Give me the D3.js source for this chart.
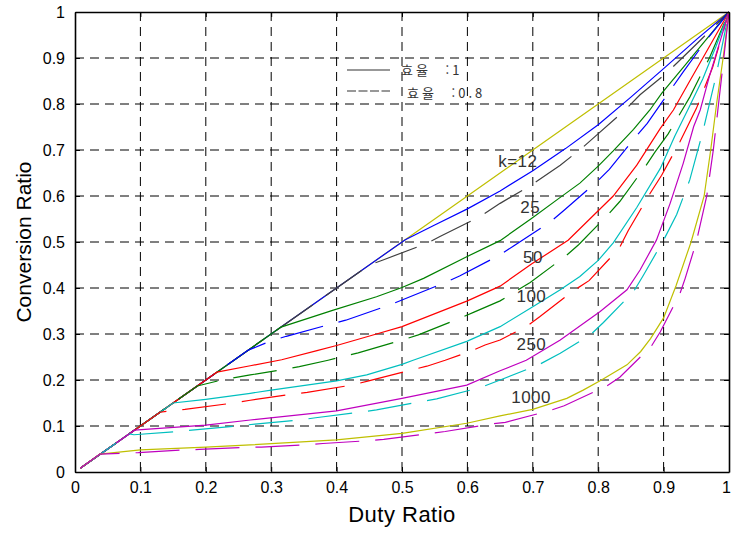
<!DOCTYPE html>
<html lang="ko">
<head>
<meta charset="utf-8">
<title>Conversion Ratio vs Duty Ratio</title>
<script src="https://cdn.jsdelivr.net/npm/d3@7/dist/d3.min.js"></script>
<style>
    body { margin: 0; background: #fff; }
    svg { display: block; font-family: "Liberation Sans", Arial, sans-serif; }
    .axis path, .axis line { stroke: #000; fill: none; }
    .axis text { font-size: 16px; fill: #000; }
    .grid line { stroke: #000; stroke-width: 1; stroke-dasharray: 9, 6; }
    .curve { fill: none; stroke-width: 1.2; }
    .klabel { font-size: 17px; fill: #333; letter-spacing: 0.5px; }
    .legend text { font-family: "Noto Sans CJK KR", sans-serif; font-size: 13px; fill: #333;
        letter-spacing: 3px; word-spacing: 8px; }
</style>
</head>
<body>
<script>
// tick values / labels
var tickValues = [0, 0.1, 0.2, 0.3, 0.4, 0.5, 0.6, 0.7, 0.8, 0.9, 1];
var tickLabels = ["0", "0.1", "0.2", "0.3", "0.4", "0.5", "0.6", "0.7", "0.8", "0.9", "1"];

// [duty, conversion ratio]
var ideal = [[0.008, 0.008], [0.1, 0.1], [0.2, 0.2], [0.3, 0.3], [0.4, 0.4], [0.5, 0.5],
    [0.6, 0.6], [0.7, 0.7], [0.8, 0.8], [0.9, 0.9], [1, 1]];

var k12 = [[0.008, 0.008], [0.505, 0.505], [0.55, 0.537], [0.6, 0.572], [0.65, 0.611], [0.7, 0.655],
    [0.75, 0.703], [0.8, 0.755], [0.85, 0.815], [0.9, 0.877], [0.95, 0.94], [1, 1]];
var k12e = [[0.008, 0.008], [0.45, 0.45], [0.471, 0.461], [0.538, 0.497], [0.558, 0.512], [0.619, 0.555],
    [0.65, 0.584], [0.698, 0.624], [0.742, 0.667], [0.775, 0.704], [0.795, 0.729], [0.841, 0.787],
    [0.864, 0.82], [0.905, 0.868], [0.95, 0.93], [1, 1]];

var k25 = [[0.008, 0.008], [0.315, 0.315], [0.395, 0.352], [0.461, 0.381], [0.5, 0.401], [0.533, 0.421],
    [0.599, 0.468], [0.65, 0.503], [0.698, 0.551], [0.742, 0.597], [0.772, 0.628], [0.8, 0.665],
    [0.823, 0.698], [0.854, 0.745], [0.879, 0.787], [0.897, 0.823], [0.931, 0.881], [0.965, 0.94], [1, 1]];
var k25e = [[0.008, 0.008], [0.265, 0.265], [0.298, 0.284], [0.323, 0.295], [0.39, 0.321], [0.414, 0.33],
    [0.479, 0.362], [0.5, 0.374], [0.566, 0.412], [0.588, 0.426], [0.65, 0.472], [0.67, 0.491],
    [0.727, 0.544], [0.747, 0.568], [0.798, 0.631], [0.817, 0.658], [0.86, 0.733], [0.875, 0.758],
    [0.93, 0.87], [0.966, 0.94], [1, 1]];

var k50 = [[0.008, 0.008], [0.217, 0.217], [0.268, 0.231], [0.316, 0.244], [0.37, 0.264], [0.4, 0.275],
    [0.461, 0.3], [0.5, 0.316], [0.6, 0.372], [0.65, 0.404], [0.698, 0.452], [0.754, 0.504], [0.8, 0.568],
    [0.823, 0.6], [0.859, 0.667], [0.895, 0.747], [0.915, 0.787], [0.94, 0.85], [0.97, 0.925], [1, 1]];
var k50e = [[0.008, 0.008], [0.187, 0.187], [0.224, 0.2], [0.268, 0.211], [0.319, 0.223], [0.343, 0.229],
    [0.387, 0.243], [0.433, 0.259], [0.5, 0.287], [0.525, 0.298], [0.588, 0.334], [0.611, 0.348],
    [0.65, 0.372], [0.696, 0.412], [0.749, 0.468], [0.77, 0.494], [0.816, 0.561], [0.833, 0.588],
    [0.872, 0.664], [0.887, 0.696], [0.907, 0.735], [0.94, 0.815], [0.97, 0.9], [1, 1]];

var k100 = [[0.008, 0.008], [0.15, 0.15], [0.2, 0.158], [0.268, 0.171], [0.3, 0.178], [0.4, 0.198],
    [0.446, 0.211], [0.5, 0.234], [0.517, 0.243], [0.599, 0.284], [0.65, 0.316], [0.7, 0.359],
    [0.742, 0.396], [0.772, 0.425], [0.8, 0.46], [0.823, 0.498], [0.859, 0.575], [0.895, 0.66],
    [0.917, 0.73], [0.938, 0.79], [0.96, 0.855], [0.98, 0.925], [1, 1]];
var k100e = [[0.008, 0.008], [0.13, 0.13], [0.145, 0.133], [0.168, 0.136], [0.237, 0.149], [0.268, 0.156],
    [0.331, 0.169], [0.355, 0.173], [0.423, 0.189], [0.449, 0.198], [0.515, 0.222], [0.538, 0.23],
    [0.566, 0.243], [0.604, 0.262], [0.627, 0.276], [0.65, 0.287], [0.691, 0.317], [0.711, 0.338],
    [0.76, 0.392], [0.786, 0.416], [0.832, 0.486], [0.846, 0.525], [0.879, 0.605], [0.897, 0.645],
    [0.925, 0.718], [0.95, 0.79], [0.975, 0.88], [1, 1]];

var k250 = [[0.008, 0.008], [0.091, 0.091], [0.2, 0.102], [0.268, 0.113], [0.4, 0.133], [0.5, 0.16],
    [0.599, 0.189], [0.65, 0.22], [0.69, 0.243], [0.742, 0.287], [0.803, 0.349], [0.844, 0.396],
    [0.864, 0.439], [0.889, 0.504], [0.91, 0.584], [0.93, 0.671], [0.946, 0.751], [0.956, 0.787],
    [0.97, 0.86], [0.985, 0.93], [1, 1]];
var k250e = [[0.008, 0.008], [0.083, 0.083], [0.09, 0.081], [0.156, 0.088], [0.247, 0.1], [0.275, 0.104],
    [0.343, 0.113], [0.368, 0.118], [0.436, 0.13], [0.461, 0.135], [0.529, 0.153], [0.553, 0.159],
    [0.621, 0.184], [0.65, 0.2], [0.709, 0.233], [0.742, 0.258], [0.788, 0.298], [0.808, 0.325],
    [0.854, 0.392], [0.868, 0.425], [0.9, 0.504], [0.92, 0.56], [0.94, 0.635], [0.96, 0.74],
    [0.98, 0.86], [1, 1]];

var k1000 = [[0.008, 0.008], [0.038, 0.039], [0.1, 0.048], [0.2, 0.054], [0.268, 0.059], [0.4, 0.07],
    [0.5, 0.084], [0.599, 0.106], [0.65, 0.122], [0.7, 0.136], [0.752, 0.16], [0.777, 0.178],
    [0.805, 0.2], [0.844, 0.233], [0.865, 0.262], [0.88, 0.29], [0.9, 0.335], [0.919, 0.405],
    [0.942, 0.5], [0.962, 0.6], [0.972, 0.7], [0.981, 0.8], [0.991, 0.9], [1, 1]];
var k1000e = [[0.008, 0.008], [0.038, 0.039], [0.074, 0.041], [0.097, 0.042], [0.166, 0.048], [0.19, 0.049],
    [0.268, 0.054], [0.285, 0.054], [0.354, 0.059], [0.379, 0.062], [0.448, 0.068], [0.472, 0.071],
    [0.54, 0.083], [0.566, 0.088], [0.635, 0.104], [0.658, 0.108], [0.725, 0.133], [0.748, 0.144],
    [0.812, 0.186], [0.833, 0.206], [0.881, 0.273], [0.895, 0.305], [0.925, 0.388], [0.933, 0.421],
    [0.95, 0.5], [0.966, 0.6], [0.976, 0.7], [0.984, 0.8], [0.992, 0.9], [1, 1]];

// curve labels and where they sit (data units, text start / baseline)
var kLabels = ["k=12", "25", "50", "100", "250", "1000"];
var kLabelPos = [[0.647, 0.663], [0.681, 0.562], [0.685, 0.454], [0.675, 0.37], [0.675, 0.265], [0.667, 0.151]];

var legendLabels = ["효율 :1", "효율 :0.8"];

// matlab colour order
var curves = [
    {data: ideal, color: "#bfbf00", dash: false},
    {data: k12, color: "#0000ff", dash: false},
    {data: k12e, color: "#404040", dash: true},
    {data: k25, color: "#008000", dash: false},
    {data: k25e, color: "#0000ff", dash: true},
    {data: k50, color: "#ff0000", dash: false},
    {data: k50e, color: "#008000", dash: true},
    {data: k100, color: "#00bfbf", dash: false},
    {data: k100e, color: "#ff0000", dash: true},
    {data: k250, color: "#bf00bf", dash: false},
    {data: k250e, color: "#00bfbf", dash: true},
    {data: k1000, color: "#bfbf00", dash: false},
    {data: k1000e, color: "#bf00bf", dash: true}
];

var margin = {top: 12, right: 2, bottom: 61, left: 75};
var w = 731 - margin.left - margin.right;
var h = 533 - margin.top - margin.bottom;

var svg = d3.select("body").append("svg")
    .attr("width", 731)
    .attr("height", 533)
    .append("g")
    .attr("transform", "translate(" + margin.left + "," + margin.top + ")");

var xScale = d3.scaleLinear().domain([0, 1]).range([0, w]);
var yScale = d3.scaleLinear().domain([0, 1]).range([h, 0]);

// dashed grid
var grid = svg.append("g").attr("class", "grid");
grid.selectAll(".gx").data(tickValues.slice(1, -1)).join("line")
    .attr("class", "gx")
    .attr("x1", function (d) { return xScale(d); })
    .attr("x2", function (d) { return xScale(d); })
    .attr("y1", 0).attr("y2", h);
grid.selectAll(".gy").data(tickValues.slice(1, -1)).join("line")
    .attr("class", "gy")
    .attr("x1", 0).attr("x2", w)
    .attr("y1", function (d) { return yScale(d); })
    .attr("y2", function (d) { return yScale(d); });

// curves
var line = d3.line()
    .x(function (d) { return xScale(d[0]); })
    .y(function (d) { return yScale(d[1]); });

svg.selectAll(".curve").data(curves).join("path")
    .attr("class", "curve")
    .attr("d", function (d) { return line(d.data); })
    .attr("stroke", function (d) { return d.color; })
    .attr("stroke-dasharray", function (d) { return d.dash ? "44,16" : null; });

// axes (box with inward ticks)
var fmt = function (d, i) { return tickLabels[i]; };
var xAxisG = svg.append("g").attr("class", "axis")
    .attr("transform", "translate(0," + h + ")")
    .call(d3.axisBottom(xScale).tickValues(tickValues).tickFormat(fmt)
        .tickSizeInner(-5).tickSizeOuter(0).tickPadding(10));
// last label sits on the page edge, nudge it in
xAxisG.selectAll(".tick text").filter(function (d) { return d === 1; }).attr("dx", "-3");
svg.append("g").attr("class", "axis")
    .call(d3.axisLeft(yScale).tickValues(tickValues).tickFormat(fmt)
        .tickSizeInner(-5).tickSizeOuter(0).tickPadding(10));
svg.append("g").attr("class", "axis")
    .call(d3.axisTop(xScale).tickValues(tickValues).tickFormat("")
        .tickSizeInner(-5).tickSizeOuter(0));
svg.append("g").attr("class", "axis")
    .attr("transform", "translate(" + w + ",0)")
    .call(d3.axisRight(yScale).tickValues(tickValues).tickFormat("")
        .tickSizeInner(-5).tickSizeOuter(0));
svg.selectAll(".axis .domain").attr("stroke-width", 1.6);

// k labels
svg.selectAll(".klabel").data(kLabels).join("text")
    .attr("class", "klabel")
    .attr("x", function (d, i) { return xScale(kLabelPos[i][0]); })
    .attr("y", function (d, i) { return yScale(kLabelPos[i][1]); })
    .text(function (d) { return d; });

// legend
var legend = svg.append("g").attr("class", "legend")
    .attr("transform", "translate(272,58)");
legend.append("line").attr("x1", 0).attr("x2", 43).attr("y1", 0).attr("y2", 0)
    .attr("stroke", "#333").attr("stroke-width", 1.2);
legend.append("line").attr("x1", 0).attr("x2", 43).attr("y1", 21).attr("y2", 21)
    .attr("stroke", "#333").attr("stroke-width", 1.2).attr("stroke-dasharray", "9,2.5");
legend.append("text").attr("x", 54).attr("y", 5).text(legendLabels[0]);
legend.append("text").attr("x", 60).attr("y", 28).text(legendLabels[1]);

// axis titles
svg.append("text")
    .attr("x", w / 2)
    .attr("y", h + 50)
    .style("text-anchor", "middle")
    .style("font-size", "22px")
    .style("letter-spacing", "0.5px")
    .text("Duty Ratio");
svg.append("text")
    .attr("transform", "rotate(-90)")
    .attr("x", -h / 2)
    .attr("y", -44)
    .style("text-anchor", "middle")
    .style("font-size", "21px")
    .text("Conversion Ratio");
</script>
</body>
</html>
